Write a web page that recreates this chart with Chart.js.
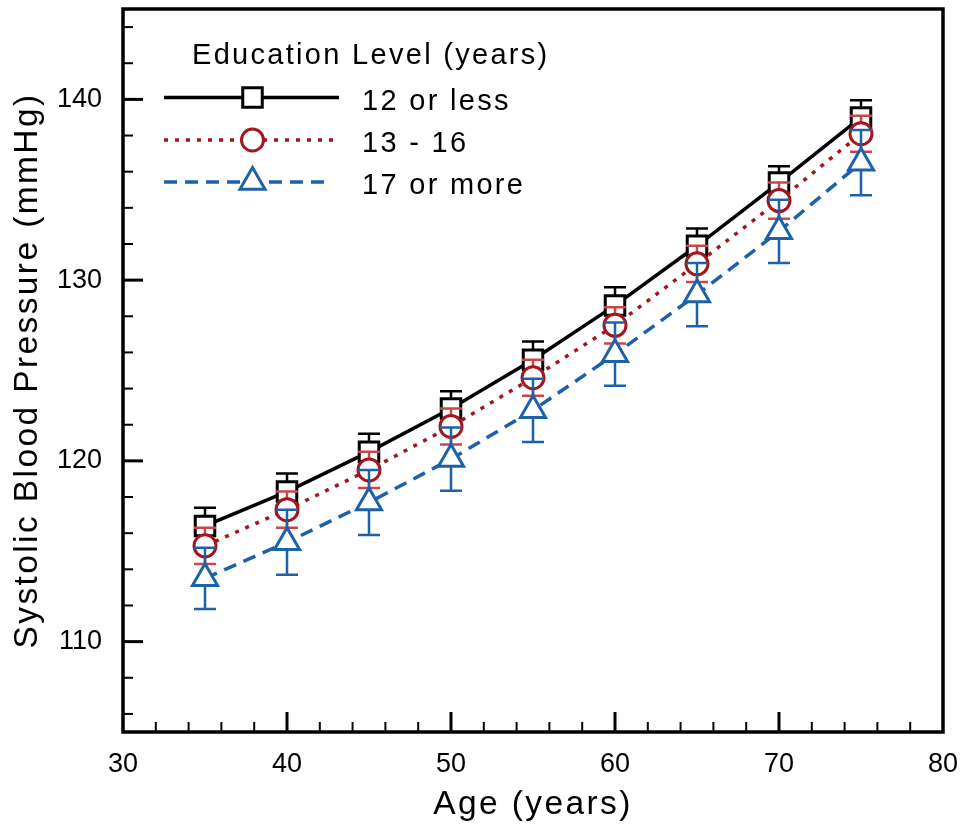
<!DOCTYPE html>
<html>
<head>
<meta charset="utf-8">
<title>Systolic Blood Pressure by Age</title>
<script src="https://cdn.jsdelivr.net/npm/chart.js@4.4.1/dist/chart.umd.min.js"></script>
<style>
  html, body { margin: 0; padding: 0; background: #fff; }
  #wrap { width: 961px; height: 829px; position: relative; }
</style>
</head>
<body>
<div id="wrap"><canvas id="grafico"></canvas></div>
<script>
// Data
const ages = [35, 40, 45, 50, 55, 60, 65, 70, 75];
const lowEdu = [116.4, 118.3, 120.5, 122.9, 125.6, 128.6, 131.9, 135.4, 139.0];
const lowEduErr = [1.0, 1.0, 1.0, 0.95, 1.0, 1.0, 0.95, 0.9, 0.95];
const midEdu = [115.3, 117.3, 119.5, 121.9, 124.6, 127.5, 130.9, 134.4, 138.1];
const midEduErr = [1.0, 1.0, 1.0, 1.0, 1.0, 1.0, 1.0, 1.0, 1.0];
const highEdu = [113.5, 115.5, 117.7, 120.1, 122.8, 125.9, 129.2, 132.7, 136.5];
const highEduErr = [1.7, 1.8, 1.8, 1.75, 1.75, 1.75, 1.75, 1.75, 1.8];
const seriesNames = ['12 or less', '13 - 16', '17 or more'];
const legendTitle = 'Education Level (years)';
const xTickLabels = [30, 40, 50, 60, 70, 80];
const yTickLabels = [110, 120, 130, 140];

const FONT = "'Liberation Sans', Arial, Helvetica, sans-serif";
const BLACK = '#000000';
const RED = '#a3161c';
const RED_BAR = '#c8474b';
const BLUE = '#1d62a8';

const toPoints = (vals, errs) => vals.map((v, i) => ({ x: ages[i], y: v, err: errs[i] }));

// error bars under each dataset
const barrasError = {
  id: 'barrasError',
  beforeDatasetDraw(chart, args) {
    const { ctx } = chart;
    const y = chart.scales.y;
    const ds = chart.data.datasets[args.index];
    ctx.save();
    ctx.strokeStyle = ds.errorColor;
    ctx.lineWidth = 2.5;
    ctx.setLineDash([]);
    args.meta.data.forEach((pt, i) => {
      const d = ds.data[i];
      const top = y.getPixelForValue(d.y + d.err);
      const bot = y.getPixelForValue(d.y - d.err);
      ctx.beginPath();
      ctx.moveTo(pt.x, top); ctx.lineTo(pt.x, bot);
      ctx.moveTo(pt.x - 11, top); ctx.lineTo(pt.x + 11, top);
      ctx.moveTo(pt.x - 11, bot); ctx.lineTo(pt.x + 11, bot);
      ctx.stroke();
    });
    ctx.restore();
  }
};

// wider text for the titles, plain for tick labels
const espaciado = {
  id: 'espaciado',
  beforeDraw(chart) { chart.ctx.letterSpacing = '2.4px'; },
  beforeDatasetsDraw(chart) { chart.ctx.letterSpacing = '0px'; }
};

function marcador(ctx, style, radius, x, y) {
  if (Chart.helpers && Chart.helpers.drawPoint) {
    Chart.helpers.drawPoint(ctx, { pointStyle: style, radius: radius, rotation: 0, borderWidth: 3 }, x, y);
    return;
  }
  ctx.beginPath();
  if (style === 'rect') {
    const s = radius * Math.SQRT1_2;
    ctx.rect(x - s, y - s, 2 * s, 2 * s);
  } else if (style === 'circle') {
    ctx.arc(x, y, radius, 0, Math.PI * 2);
  } else {
    ctx.moveTo(x, y - radius);
    ctx.lineTo(x + radius * 0.866, y + radius / 2);
    ctx.lineTo(x - radius * 0.866, y + radius / 2);
    ctx.closePath();
  }
  ctx.fill();
  ctx.stroke();
}

// frame, inward ticks and legend
const marco = {
  id: 'marco',
  afterDraw(chart) {
    const { ctx, chartArea: a } = chart;
    const xs = chart.scales.x, ys = chart.scales.y;
    ctx.save();
    ctx.strokeStyle = '#000';
    ctx.setLineDash([]);
    for (let v = 32; v < 80; v += 2) {
      const major = v % 10 === 0;
      const px = xs.getPixelForValue(v);
      ctx.lineWidth = major ? 3 : 2;
      ctx.beginPath();
      ctx.moveTo(px, a.bottom);
      ctx.lineTo(px, a.bottom - (major ? 20 : 10));
      ctx.stroke();
    }
    for (let v = 106; v < 145; v += 2) {
      const major = v % 10 === 0;
      const py = ys.getPixelForValue(v);
      ctx.lineWidth = major ? 3 : 2;
      ctx.beginPath();
      ctx.moveTo(a.left, py);
      ctx.lineTo(a.left + (major ? 20 : 10), py);
      ctx.stroke();
    }
    ctx.lineWidth = 3.5;
    ctx.strokeRect(a.left, a.top, a.right - a.left, a.bottom - a.top);

    // legend
    ctx.letterSpacing = '2.3px';
    ctx.fillStyle = '#000';
    ctx.font = '29px ' + FONT;
    ctx.textAlign = 'left';
    ctx.textBaseline = 'alphabetic';
    ctx.fillText(legendTitle, 192, 64);
    const rows = [97.5, 140, 182];
    const bases = [110, 151.5, 194];
    chart.data.datasets.forEach((ds, i) => {
      ctx.strokeStyle = ds.borderColor;
      ctx.lineWidth = 3.5;
      ctx.setLineDash(ds.borderDash || []);
      ctx.beginPath();
      ctx.moveTo(164, rows[i]);
      ctx.lineTo(i === 2 ? 330 : 339, rows[i]);
      ctx.stroke();
      ctx.setLineDash([]);
      ctx.fillStyle = '#fff';
      ctx.lineWidth = 3;
      marcador(ctx, ds.pointStyle, ds.pointRadius, 252.5, rows[i]);
      ctx.fillStyle = '#000';
      ctx.fillText(seriesNames[i], 362, bases[i]);
    });
    ctx.letterSpacing = '0px';
    ctx.restore();
  }
};

new Chart(document.getElementById('grafico'), {
  type: 'line',
  data: {
    datasets: [
      {
        label: seriesNames[0],
        data: toPoints(lowEdu, lowEduErr),
        borderColor: BLACK,
        borderWidth: 3.5,
        pointStyle: 'rect',
        pointRadius: 13.8,
        pointBorderWidth: 3,
        pointBackgroundColor: '#fff',
        pointBorderColor: BLACK,
        errorColor: BLACK,
        order: 3
      },
      {
        label: seriesNames[1],
        data: toPoints(midEdu, midEduErr),
        borderColor: RED,
        borderWidth: 3.5,
        borderDash: [4, 7],
        pointStyle: 'circle',
        pointRadius: 11,
        pointBorderWidth: 3,
        pointBackgroundColor: '#fff',
        pointBorderColor: RED,
        errorColor: RED_BAR,
        order: 2
      },
      {
        label: seriesNames[2],
        data: toPoints(highEdu, highEduErr),
        borderColor: BLUE,
        borderWidth: 3.5,
        borderDash: [13, 8],
        pointStyle: 'triangle',
        pointRadius: 14.5,
        pointBorderWidth: 3,
        pointBackgroundColor: '#fff',
        pointBorderColor: BLUE,
        errorColor: BLUE,
        order: 1
      }
    ]
  },
  options: {
    responsive: true,
    maintainAspectRatio: false,
    animation: false,
    events: [],
    layout: { autoPadding: false, padding: { top: 9, right: 18, left: 0, bottom: 0 } },
    plugins: { legend: { display: false }, tooltip: { enabled: false } },
    scales: {
      x: {
        type: 'linear',
        min: 30,
        max: 80,
        afterBuildTicks: s => { s.ticks = xTickLabels.map(v => ({ value: v })); },
        afterFit: s => { s.height = 97; s.paddingLeft = 0; s.paddingRight = 0; },
        grid: { display: false, drawTicks: false },
        border: { display: false },
        ticks: { color: '#000', font: { family: FONT, size: 27 }, padding: 16, maxRotation: 0, z: 1 },
        title: { display: true, text: 'Age (years)', color: '#000', font: { family: FONT, size: 33.5 }, padding: { top: 0, bottom: 4 } }
      },
      y: {
        min: 105,
        max: 145,
        afterBuildTicks: s => { s.ticks = yTickLabels.map(v => ({ value: v })); },
        afterFit: s => { s.width = 123; s.paddingTop = 0; s.paddingBottom = 0; },
        grid: { display: false, drawTicks: false },
        border: { display: false },
        ticks: { color: '#000', font: { family: FONT, size: 27 }, padding: 21, z: 1 },
        title: { display: true, text: 'Systolic Blood Pressure (mmHg)', color: '#000', font: { family: FONT, size: 33.5 }, padding: { top: 8, bottom: 0 } }
      }
    }
  },
  plugins: [espaciado, barrasError, marco]
});
</script>
</body>
</html>
